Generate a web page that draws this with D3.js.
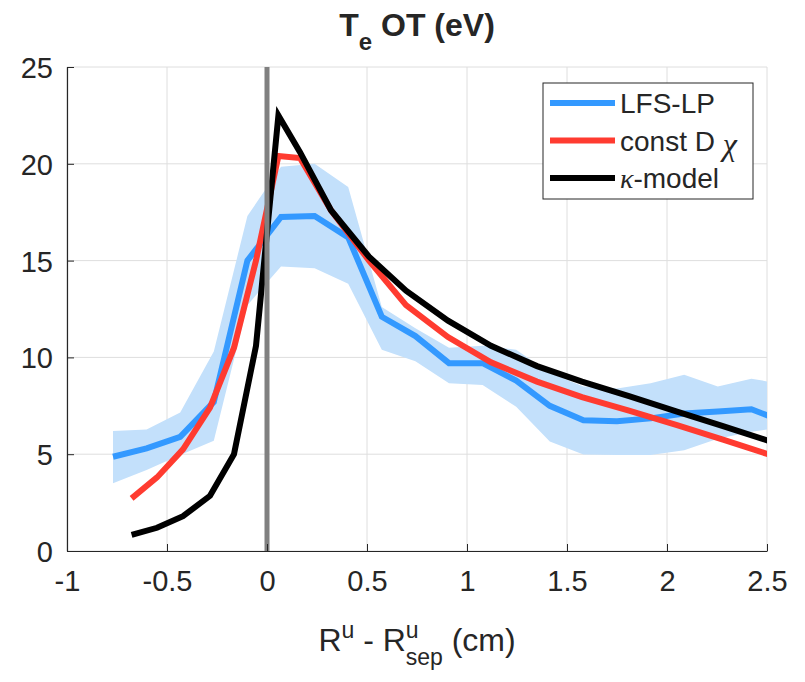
<!DOCTYPE html>
<html>
<head>
<meta charset="utf-8">
<script src="https://cdn.jsdelivr.net/npm/d3@7"></script>
<style>
  body { margin: 0; background: #fff; }
  text { font-family: "Liberation Sans", Arial, Helvetica, sans-serif; fill: #262626; }
</style>
</head>
<body>
<div id="chart-area"></div>
<script>
// LFS-LP probe profile (mean and spread band)
var xLP = [-0.77, -0.602, -0.434, -0.266, -0.098, 0.07, 0.238, 0.406, 0.574, 0.742, 0.91,
           1.078, 1.246, 1.414, 1.582, 1.75, 1.918, 2.086, 2.254, 2.422, 2.59];
var lpMean = [4.87, 5.3, 5.9, 7.7, 15.0, 17.25, 17.3, 16.2, 12.1, 11.1, 9.7,
              9.7, 8.8, 7.5, 6.75, 6.7, 6.85, 7.1, 7.2, 7.32, 6.65];
var lpUpper = [6.2, 6.28, 7.15, 10.3, 17.3, 19.85, 20.0, 18.8, 12.6, 11.5, 10.5,
               10.6, 10.4, 9.2, 8.5, 8.4, 8.66, 9.1, 8.5, 8.9, 8.6];
var lpLower = [3.5, 4.18, 4.96, 5.7, 12.7, 14.7, 14.6, 13.8, 10.4, 9.8, 8.66,
               8.57, 7.45, 5.65, 4.98, 4.96, 4.96, 5.2, 5.8, 6.16, 6.4];

// model profiles
var xModel = [-0.677, -0.55, -0.42, -0.285, -0.165, -0.055, 0.057, 0.165, 0.32, 0.51,
              0.695, 0.905, 1.12, 1.35, 1.575, 1.81, 2.05, 2.28, 2.52];
var constD = [2.72, 3.8, 5.25, 7.4, 10.5, 15.0, 20.4, 20.3, 17.6, 15.0,
              12.7, 11.05, 9.75, 8.75, 7.95, 7.25, 6.5, 5.75, 4.95];
var kappa = [0.83, 1.2, 1.8, 2.85, 5.0, 10.6, 22.5, 20.6, 17.6, 15.2,
             13.45, 11.9, 10.6, 9.55, 8.75, 8.0, 7.2, 6.45, 5.65];

var xTicks = [-1, -0.5, 0, 0.5, 1, 1.5, 2, 2.5];
var yTicks = [0, 5, 10, 15, 20, 25];
var legendNames = ["LFS-LP", "const D", "-model"];

var width = 805, height = 682;
var margin = {top: 67, right: 38, bottom: 131, left: 67};
var w = width - margin.left - margin.right;
var h = height - margin.top - margin.bottom;

var svg = d3.select("#chart-area").append("svg")
  .attr("width", width).attr("height", height);
var g = svg.append("g")
  .attr("transform", "translate(" + margin.left + "," + margin.top + ")");

var x = d3.scaleLinear().domain([-1, 2.5]).range([0, w]);
var y = d3.scaleLinear().domain([0, 25]).range([h, 0]);

svg.append("defs").append("clipPath").attr("id", "plot-clip")
  .append("rect").attr("width", w).attr("height", h);

// grid
g.append("g").selectAll("line").data(xTicks).enter().append("line")
  .attr("x1", d => x(d)).attr("x2", d => x(d))
  .attr("y1", 0).attr("y2", h)
  .attr("stroke", "#dedede").attr("stroke-width", 1);
g.append("g").selectAll("line").data(yTicks).enter().append("line")
  .attr("y1", d => y(d)).attr("y2", d => y(d))
  .attr("x1", 0).attr("x2", w)
  .attr("stroke", "#dedede").attr("stroke-width", 1);

var plot = g.append("g").attr("clip-path", "url(#plot-clip)");

// shaded band
var area = d3.area()
  .x((d, i) => x(xLP[i]))
  .y0((d, i) => y(lpLower[i]))
  .y1((d, i) => y(lpUpper[i]));
plot.append("path").datum(lpMean).attr("d", area)
  .attr("fill", "#c3e0fb");

var line = d3.line().x(d => x(d[0])).y(d => y(d[1]));
var series = [
  {vals: d3.zip(xLP, lpMean), color: "#3399ff"},
  {vals: d3.zip(xModel, constD), color: "#ff3b30"},
  {vals: d3.zip(xModel, kappa), color: "#000000"}
];
plot.selectAll(".series").data(series).enter().append("path")
  .attr("class", "series")
  .attr("d", d => line(d.vals))
  .attr("fill", "none")
  .attr("stroke", d => d.color)
  .attr("stroke-width", 6)
  .attr("stroke-linejoin", "miter");

// separatrix
g.append("line")
  .attr("x1", x(0)).attr("x2", x(0)).attr("y1", 0).attr("y2", h)
  .attr("stroke", "#808080").attr("stroke-width", 5);

// axes, plain hyphen for negatives like the original
var fmt = d => String(d);
var xAxis = d3.axisBottom(x).tickValues(xTicks).tickSize(-7).tickSizeOuter(0)
  .tickPadding(15).tickFormat(fmt);
var yAxis = d3.axisLeft(y).tickValues(yTicks).tickSize(-7).tickSizeOuter(0)
  .tickPadding(14).tickFormat(fmt);
var xa = g.append("g").attr("transform", "translate(0," + h + ")").call(xAxis);
var ya = g.append("g").call(yAxis);
[xa, ya].forEach(a => {
  a.select(".domain").attr("stroke", "#262626").attr("stroke-width", 1.2);
  a.selectAll(".tick line").attr("stroke", "#262626");
  a.selectAll(".tick text").attr("font-size", "29px")
    .attr("font-family", "'Liberation Sans', Arial, sans-serif").attr("fill", "#262626");
});
xa.selectAll(".tick text").attr("dy", "0.85em");
ya.selectAll(".tick text").attr("dy", "0.36em");

// title
var title = svg.append("text")
  .attr("x", margin.left + w / 2).attr("y", 36)
  .attr("text-anchor", "middle")
  .attr("font-size", "32px").attr("font-weight", "bold").attr("fill", "#000");
title.append("tspan").text("T");
title.append("tspan").attr("dy", 14).attr("font-size", "24px").text("e");
title.append("tspan").attr("dy", -14).text(" OT (eV)");

// x label
var xl = svg.append("text")
  .attr("x", margin.left + w / 2).attr("y", 651)
  .attr("text-anchor", "middle")
  .attr("font-size", "32px").attr("fill", "#262626");
xl.append("tspan").text("R");
xl.append("tspan").attr("dy", -13).attr("font-size", "23px").text("u");
xl.append("tspan").attr("dy", 13).text(" - R");
xl.append("tspan").attr("dy", -13).attr("font-size", "23px").text("u");
xl.append("tspan").attr("dy", 27).attr("dx", -13).attr("font-size", "23px").text("sep");
xl.append("tspan").attr("dy", -14).text(" (cm)");

// legend
var lg = svg.append("g").attr("transform", "translate(543,83)");
lg.append("rect").attr("width", 210).attr("height", 116)
  .attr("fill", "#fff").attr("stroke", "#262626").attr("stroke-width", 1);
var rows = lg.selectAll(".row").data(series).enter().append("g")
  .attr("transform", (d, i) => "translate(0," + (20 + i * 37.5) + ")");
rows.append("line").attr("x1", 7).attr("x2", 72)
  .attr("stroke", d => d.color).attr("stroke-width", 6);
var lt = rows.append("text").attr("x", 77).attr("dy", "0.36em")
  .attr("font-size", "28px").attr("fill", "#000");
lt.each(function(d, i) {
  var t = d3.select(this);
  if (i === 0) t.text(legendNames[0]);
  if (i === 1) {
    t.append("tspan").text(legendNames[1] + " ");
    t.append("tspan").attr("font-family", "'Liberation Serif', 'DejaVu Serif', serif")
      .attr("font-style", "italic").attr("font-size", "32px").attr("fill", "#262626")
      .attr("dy", 4).text("\u03c7");
  }
  if (i === 2) {
    t.append("tspan").attr("font-family", "'Liberation Serif', 'DejaVu Serif', serif")
      .attr("font-style", "italic").text("\u03ba");
    t.append("tspan").text(legendNames[2]);
  }
});
</script>
</body>
</html>
